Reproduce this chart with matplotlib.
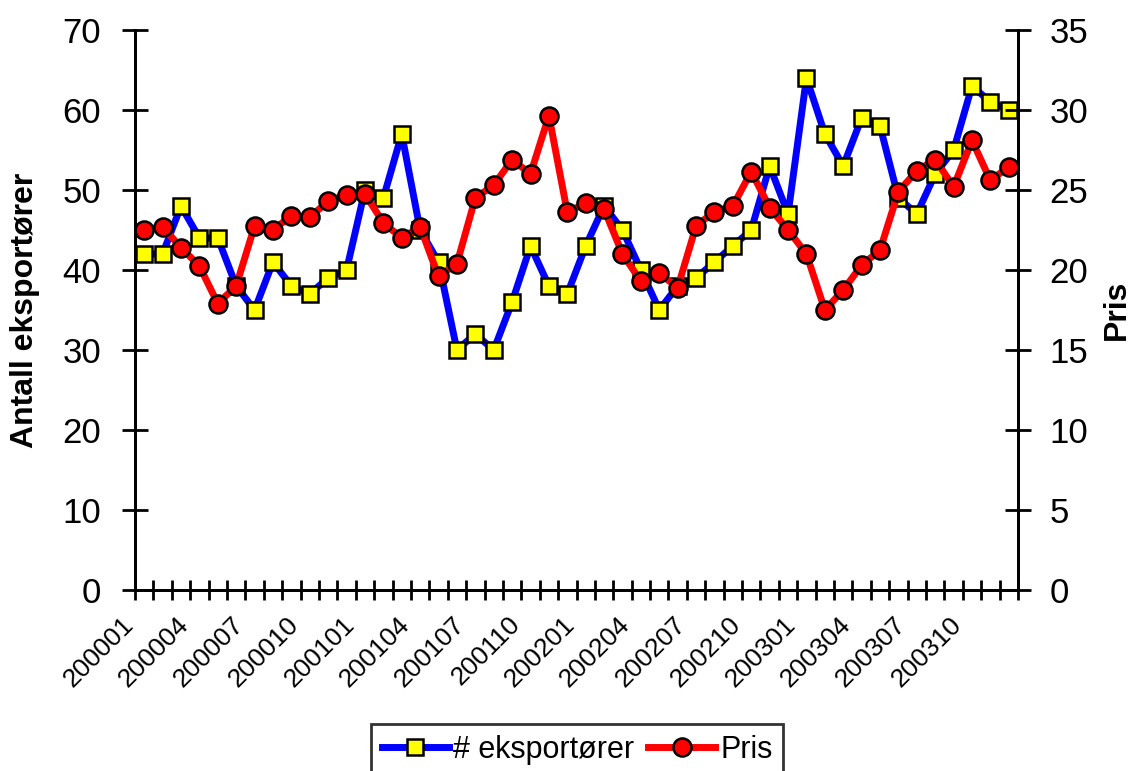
import matplotlib.pyplot as plt
import matplotlib.transforms as mtransforms
import numpy as np

plt.rcParams['font.family'] = ['Liberation Sans', 'DejaVu Sans']

# months 200001 .. 200312
months = ["%d%02d" % (y, m) for y in range(2000, 2004) for m in range(1, 13)]

eksportorer = [42, 42, 48, 44, 44, 38, 35, 41, 38, 37, 39, 40,
               50, 49, 57, 45, 41, 30, 32, 30, 36, 43, 38, 37,
               43, 48, 45, 40, 35, 38, 39, 41, 43, 45, 53, 47,
               64, 57, 53, 59, 58, 49, 47, 52, 55, 63, 61, 60]

pris = [22.5, 22.7, 21.4, 20.25, 17.9, 19.0, 22.75, 22.5, 23.4, 23.3, 24.3, 24.7,
        24.75, 22.95, 22.0, 22.7, 19.6, 20.4, 24.5, 25.3, 26.9, 26.0, 29.65, 23.6,
        24.2, 23.8, 21.0, 19.3, 19.8, 18.9, 22.75, 23.65, 24.0, 26.15, 23.9, 22.5,
        21.0, 17.5, 18.75, 20.3, 21.25, 24.9, 26.2, 26.9, 25.2, 28.1, 25.6, 26.45]

x = np.arange(len(months))

fig = plt.figure(figsize=(11.32, 7.71), dpi=100)
ax = fig.add_axes([135 / 1132, 1 - 590 / 771, (1018 - 135) / 1132, 560 / 771])
ax2 = ax.twinx()

l1, = ax.plot(x, eksportorer, color='#0000ff', lw=5, marker='s', ms=12,
              mfc='#ffff00', mec='black', mew=1.8, label='# eksportører')
l2, = ax2.plot(x, pris, color='#ff0000', lw=5, marker='o', ms=13,
               mfc='#ff0000', mec='black', mew=1.8, label='Pris')

ax.set_xlim(-0.5, len(months) - 0.5)
ax.set_ylim(0, 70)
ax2.set_ylim(0, 35)
ax.set_yticks(range(0, 71, 10))
ax2.set_yticks(range(0, 36, 5))

# category boundaries as ticks, labels every third month
ax.set_xticks(np.arange(-0.5, len(months), 1.0))
ax.set_xticks(x[::3], minor=True)
ax.set_xticklabels([])
ax.set_xticklabels(months[::3], minor=True, rotation=45, ha='right', fontsize=19)
ax.tick_params(axis='x', which='minor', length=0, pad=16)
ax.tick_params(axis='x', which='major', direction='inout', length=14, width=2)
shift = mtransforms.ScaledTranslation(-6 / 100, 0, fig.dpi_scale_trans)
for lab in ax.get_xticklabels(minor=True):
    lab.set_transform(lab.get_transform() + shift)

ax.tick_params(axis='y', direction='inout', length=19, width=2, labelsize=25, pad=15)
ax2.tick_params(axis='y', direction='inout', length=19, width=2, labelsize=25, pad=13)

for a in (ax, ax2):
    a.spines['top'].set_visible(False)
    for s in ('left', 'right', 'bottom'):
        a.spines[s].set_linewidth(2)

ax.set_ylabel('Antall eksportører', fontsize=23, fontweight='bold', labelpad=16)
ax2.set_ylabel('Pris', fontsize=23, fontweight='bold', rotation=90, labelpad=10)

leg = fig.legend([l1, l2], ['# eksportører', 'Pris'], loc='upper center',
                 bbox_to_anchor=(577 / 1132, 1 - 724 / 771), ncol=2, fontsize=22,
                 frameon=True, fancybox=False, handlelength=2.2, handletextpad=0.15,
                 columnspacing=0.45, borderpad=0.35, borderaxespad=0)
leg.get_frame().set_edgecolor('black')
leg.get_frame().set_linewidth(2)

fig.savefig('out.png', dpi=100)
